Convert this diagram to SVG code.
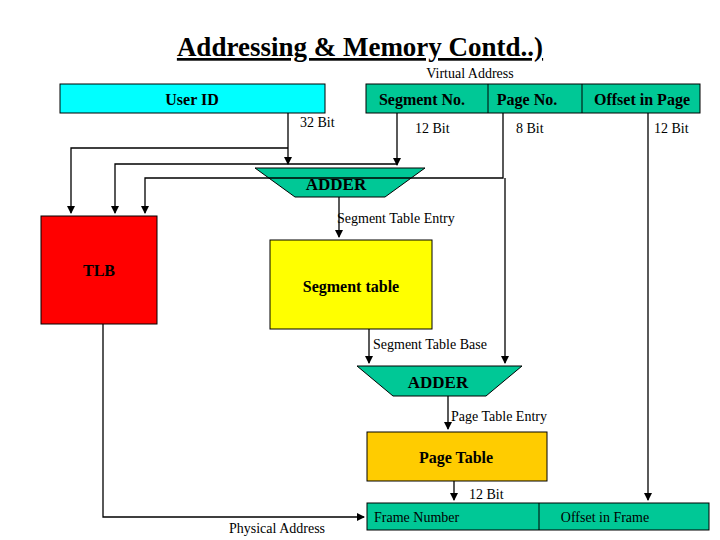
<svg xmlns="http://www.w3.org/2000/svg" width="720" height="540" viewBox="0 0 720 540">
<style>
text{font-family:"Liberation Serif",serif;fill:#000}
.b{font-weight:bold}
.l{stroke:#000;stroke-width:1.3;fill:none}
.g{fill:#00c896;stroke:#000;stroke-width:1}
</style>
<defs><marker id="a" markerWidth="8" markerHeight="8" refX="7" refY="4" orient="auto" markerUnits="userSpaceOnUse"><path d="M0,0L8,4L0,8z"/></marker></defs>
<rect width="720" height="540" fill="#fff"/>
<text x="360" y="56" text-anchor="middle" font-size="27" class="b" text-decoration="underline">Addressing &amp; Memory Contd..)</text>
<text x="470" y="78" text-anchor="middle" font-size="14">Virtual Address</text>
<g id="userid"><rect x="60" y="84" width="265" height="29" fill="#00ffff" stroke="#000"/><text x="192" y="105" text-anchor="middle" font-size="16" class="b">User ID</text></g>
<g id="vaddr"><rect x="366" y="84" width="334" height="29" class="g"/><line x1="488" y1="84" x2="488" y2="113" stroke="#000"/><line x1="582" y1="84" x2="582" y2="113" stroke="#000"/>
<text x="422" y="105" text-anchor="middle" font-size="16" class="b">Segment No.</text><text x="527" y="105" text-anchor="middle" font-size="16" class="b">Page No.</text><text x="642" y="105" text-anchor="middle" font-size="16" class="b">Offset in Page</text></g>
<g id="adder1"><path d="M255,168H425L385,197H295z" class="g"/><text x="336" y="190" text-anchor="middle" font-size="17" class="b">ADDER</text></g>
<g id="tlb"><rect x="41" y="216" width="116" height="108" fill="#ff0000" stroke="#000"/><text x="99" y="276" text-anchor="middle" font-size="16" class="b">TLB</text></g>
<g id="segtable"><rect x="270" y="240" width="162" height="89" fill="#ffff00" stroke="#000"/><text x="351" y="292" text-anchor="middle" font-size="16" class="b">Segment table</text></g>
<g id="adder2"><path d="M357,366H522L486,396H393z" class="g"/><text x="438" y="388" text-anchor="middle" font-size="17" class="b">ADDER</text></g>
<g id="pagetable"><rect x="367" y="432" width="180" height="49" fill="#ffcc00" stroke="#000"/><text x="456" y="463" text-anchor="middle" font-size="16" class="b">Page Table</text></g>
<g id="paddr"><rect x="367" y="503" width="342" height="27" class="g"/><line x1="539" y1="503" x2="539" y2="530" stroke="#000"/>
<text x="374" y="522" font-size="14">Frame Number</text><text x="605" y="522" text-anchor="middle" font-size="14">Offset in Frame</text></g>
<g id="connectors">
<path class="l" d="M288,113V164" marker-end="url(#a)"/>
<path class="l" d="M397,113V165" marker-end="url(#a)"/>
<path class="l" d="M288,148H71V213" marker-end="url(#a)"/>
<path class="l" d="M397,164H115V213" marker-end="url(#a)"/>
<path class="l" d="M503,113V178H145V213" marker-end="url(#a)"/>
<path class="l" d="M505,178V363" marker-end="url(#a)"/>
<path class="l" d="M648,113V500" marker-end="url(#a)"/>
<path class="l" d="M339,197V237" marker-end="url(#a)"/>
<path class="l" d="M369,329V363" marker-end="url(#a)"/>
<path class="l" d="M448,396V429" marker-end="url(#a)"/>
<path class="l" d="M454,481V500" marker-end="url(#a)"/>
<path class="l" d="M103,324V517H364" marker-end="url(#a)"/>
</g>
<text x="300" y="127" font-size="14">32 Bit</text>
<text x="415" y="133" font-size="14">12 Bit</text>
<text x="516" y="133" font-size="14">8 Bit</text>
<text x="654" y="133" font-size="14">12 Bit</text>
<text x="337" y="223" font-size="14">Segment Table Entry</text>
<text x="373" y="349" font-size="14">Segment Table Base</text>
<text x="451" y="421" font-size="14">Page Table Entry</text>
<text x="469" y="499" font-size="14">12 Bit</text>
<text x="229" y="533" font-size="14">Physical Address</text>
</svg>
